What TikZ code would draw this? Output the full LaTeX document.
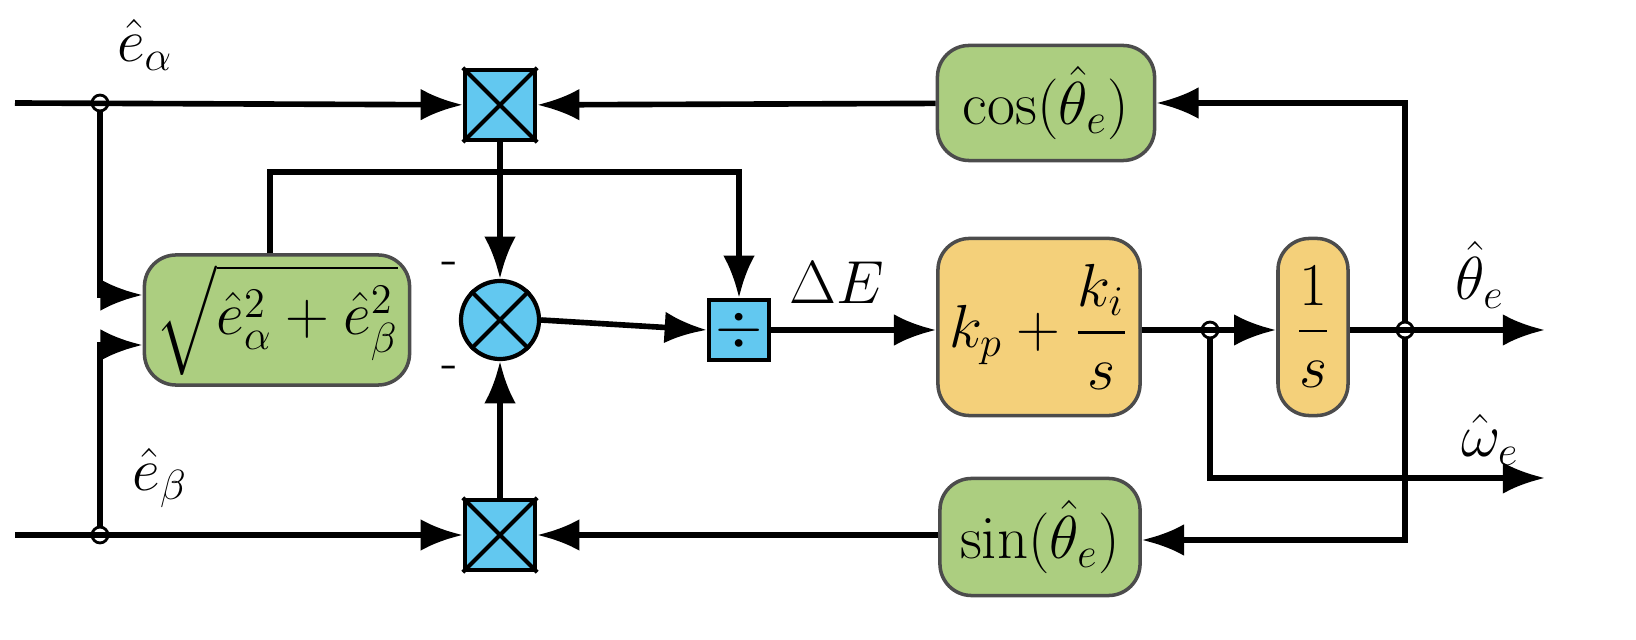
\documentclass[tikz,border=0pt]{standalone}
\usepackage{amsmath}
\usepackage{tikz}
\usetikzlibrary{arrows.meta}
\tikzset{>={Latex[length=12pt,width=9pt]}}
\usetikzlibrary{calc,positioning}
\definecolor{mygreen}{RGB}{172,206,128}
\definecolor{myorange}{RGB}{244,208,122}
\definecolor{myblue}{RGB}{98,200,240}

\begin{document}
\begin{tikzpicture}[x=0.01cm,y=-0.01cm,line width=1.6pt,
    blk/.style={draw=black!70,line width=1pt,rounded corners=9pt,inner sep=0pt},
    mul/.style={draw,fill=myblue,line width=1.2pt,minimum size=0.7cm,inner sep=0pt},
    dot/.style={draw,fill=white,circle,inner sep=1.6pt,line width=0.8pt},
    lbl/.style={font=\fontsize{18}{22}\selectfont}]
    \useasboundingbox (0,0) rectangle (1636,640);
    \begin{scope}[overlay]

    % BLOCKS
    \node[blk,fill=mygreen,minimum width=2.65cm,minimum height=1.3cm,lbl] (sq) at (277,320) {$\sqrt{\hat e_\alpha^2+\hat e_\beta^2}$};
    \node[blk,fill=mygreen,minimum width=2.17cm,minimum height=1.15cm,lbl] (cs) at (1046,103) {$\cos(\hat\theta_e)$};
    \node[blk,fill=mygreen,minimum width=2.0cm,minimum height=1.17cm,lbl] (sn) at (1040,537) {$\sin(\hat\theta_e)$};
    \node[blk,fill=myorange,minimum width=2.02cm,minimum height=1.77cm,lbl] (pik) at (1039,327) {$k_p+\dfrac{k_i}{s}$};
    \node[blk,fill=myorange,minimum width=0.7cm,minimum height=1.77cm,lbl] (int) at (1313,327) {$\dfrac{1}{s}$};
    \node[mul] (m1) at (500,105) {};
    \node[mul] (m2) at (500,535) {};
    \draw[line width=1.2pt] (m1.north west) -- (m1.south east) (m1.north east) -- (m1.south west);
    \draw[line width=1.2pt] (m2.north west) -- (m2.south east) (m2.north east) -- (m2.south west);
    \node[circle,draw,fill=myblue,minimum size=0.78cm,inner sep=0pt,line width=1.2pt] (sum) at (500,320) {};
    \draw[line width=1.2pt] (sum.45) -- (sum.225) (sum.135) -- (sum.315);
    \node[mul,minimum size=0.6cm,lbl] (dv) at (739,330) {$\div$};

    % COORDINATES
    \coordinate (inA) at (15,103);
    \coordinate (inB) at (15,535);
    \node[dot] (dA) at (100,103) {};
    \node[dot] (dB) at (100,535) {};
    \node[dot] (dW) at (1210,330) {};
    \node[dot] (dT) at (1405,330) {};
    \coordinate (outT) at (1545,330);
    \coordinate (outW) at (1545,478);

    % LINES
    \draw[->] (inA) -- (m1);
    \draw[->] (inB) -- (m2);
    \draw[->] (dA) |- ($(sq.west)+(0,-25)$);
    \draw[->] (dB) |- ($(sq.west)+(0,25)$);
    \draw[->] (sq.north) ++(-7,0) |- (739,172) -- (dv.north);
    \draw[->] (m1) -- (sum);
    \draw[->] (m2) -- (sum);
    \draw[->] (sum.east) -- (dv.west);
    \draw[->] (dv) -- (pik.west |- dv);
    \draw[->] (pik.east |- dv) -- (int.west |- dv);
    \draw[->] (int.east |- dv) -- (outT);
    \draw[->] (dW) |- (outW);
    \draw[->] (dT) |- (cs.east);
    \draw[->] (dT) |- (sn.east |- 0,540);
    \draw[->] (cs) -- (m1);
    \draw[->] (sn.west |- m2) -- (m2);

    % LABELS
    \node[lbl] (la) at (145,45) {$\hat e_\alpha$};
    \node[lbl] (lb) at (160,478) {$\hat e_\beta$};
    \node[lbl] (lt) at (1480,275) {$\hat\theta_e$};
    \node[lbl] (lw) at (1490,440) {$\hat\omega_e$};
    \node[lbl,anchor=south west] (le) at (775,318) {$\Delta E$};
    \node[font=\Large] (mi1) at (450,268) {-};
    \node[font=\Large] (mi2) at (450,372) {-};
    \end{scope}
\end{tikzpicture}
\end{document}
